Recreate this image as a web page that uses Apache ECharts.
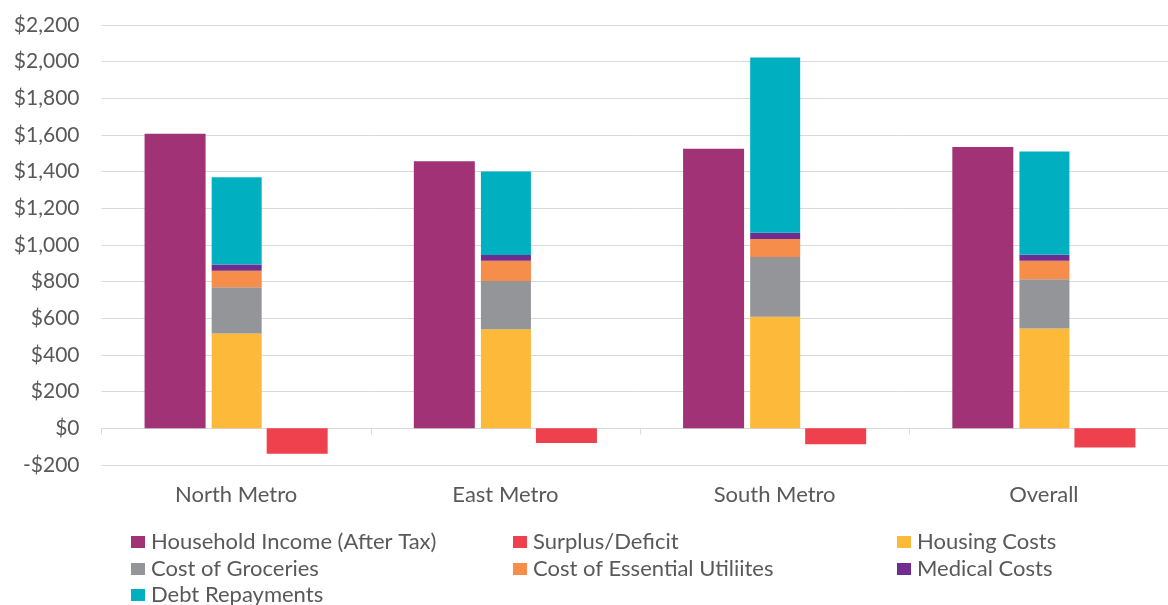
<!DOCTYPE html>
<html>
<head>
<meta charset="utf-8">
<script src="https://cdn.jsdelivr.net/npm/echarts@6/dist/echarts.min.js"></script>
<style>
html,body{margin:0;padding:0;background:#fff;}
#chart{width:1168px;height:605px;}
</style>
</head>
<body>
<div id="chart"></div>
<script>
var categories = ['North Metro', 'East Metro', 'South Metro', 'Overall'];
var income = [1607, 1457, 1525, 1534];
var surplus = [-138, -80, -87, -105];
var housing = [517, 541, 608, 545];
var groceries = [252, 262, 326, 268];
var utilities = [91, 111, 99, 101];
var medical = [33, 31, 34, 33];
var debt = [477, 456, 956, 563];
var yTicks = { min: -200, max: 2200, interval: 200 };

var FONT = 'Lato';
var TXT = '#595959';

function money(v) {
  var s = Math.abs(v).toString().replace(/\B(?=(\d{3})+(?!\d))/g, ',');
  return (v < 0 ? '-$' : '$') + s;
}

function bar(name, data, stack, color, width) {
  return {
    name: name, type: 'bar', data: data, stack: stack,
    barWidth: width, barGap: '10%',
    itemStyle: { color: color },
    emphasis: { disabled: true }
  };
}

var series = [
  bar('Household Income (After Tax)', income, 'inc', '#A03275', 61),
  bar('Housing Costs', housing, 'exp', '#FDB93A', 50),
  bar('Cost of Groceries', groceries, 'exp', '#939598', 50),
  bar('Cost of Essential Utiliites', utilities, 'exp', '#F68D4B', 50),
  bar('Medical Costs', medical, 'exp', '#6F2C91', 50),
  bar('Debt Repayments', debt, 'exp', '#00B0C0', 50),
  bar('Surplus/Deficit', surplus, 'sur', '#EF414D', 61)
];

function legend(left, centerY, name) {
  return {
    orient: 'horizontal', left: left, top: centerY - 11,
    itemWidth: 14, itemHeight: 12, padding: 0,
    icon: 'rect',
    textStyle: { fontFamily: FONT, fontSize: 22, color: TXT, lineHeight: 22, padding: [0, 0, 0, 1] },
    data: [name]
  };
}

var chart = echarts.init(document.getElementById('chart'), null, { renderer: 'canvas' });
chart.setOption({
  animation: false,
  backgroundColor: '#fff',
  grid: { left: 101.5, width: 1077, top: 25, bottom: 140, containLabel: false, outerBoundsMode: 'none' },
  legend: [
    legend(131, 542, 'Household Income (After Tax)'),
    legend(513, 542, 'Surplus/Deficit'),
    legend(897, 542, 'Housing Costs'),
    legend(131, 569, 'Cost of Groceries'),
    legend(513, 569, 'Cost of Essential Utiliites'),
    legend(897, 569, 'Medical Costs'),
    legend(131, 595, 'Debt Repayments')
  ],
  xAxis: {
    type: 'category', data: categories,
    axisLine: { onZero: true, lineStyle: { color: '#d9d9d9', width: 1 } },
    axisTick: { show: true, length: 6, lineStyle: { color: '#d9d9d9' } },
    axisLabel: { margin: 19, fontFamily: FONT, fontSize: 22, color: TXT }
  },
  yAxis: {
    type: 'value', min: yTicks.min, max: yTicks.max, interval: yTicks.interval,
    axisLine: { show: false }, axisTick: { show: false },
    splitLine: { lineStyle: { color: '#d9d9d9', width: 1 } },
    axisLabel: { margin: 22, fontFamily: FONT, fontSize: 21, color: TXT, formatter: money }
  },
  series: series
});
</script>
</body>
</html>
